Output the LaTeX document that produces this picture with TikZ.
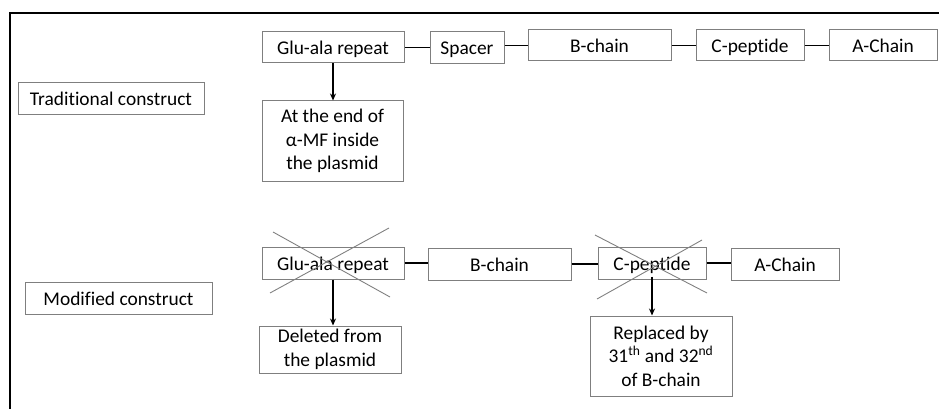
\documentclass[tikz,border=0pt]{standalone}
\usepackage{fontspec}
\setmainfont{Carlito}[Ligatures={NoCommon}]
\usetikzlibrary{arrows.meta}
\definecolor{boxgray}{HTML}{7F7F7F}
\definecolor{crossgray}{HTML}{808080}
\tikzset{
  box/.style={draw=boxgray, line width=1pt, minimum height=31pt, inner sep=0pt, align=center,
              font=\fontsize{19.4}{23.5}\selectfont},
  one/.style={text height=16pt, text depth=2pt},
  link/.style={draw=black, line width=1.6pt},
  arr/.style={draw=black, line width=1.6pt, -{Stealth[length=7pt,width=6pt]}},
  cross/.style={draw=crossgray, line width=0.9pt},
  frameline/.style={draw=black, line width=2.4pt}
}
\begin{document}
\begin{tikzpicture}[x=1pt,y=-1pt]
\useasboundingbox (0,0) rectangle (939,409);
% frame
\coordinate (ftr) at (939,13);
\coordinate (ftl) at (10,13);
\coordinate (fbl) at (10,409);
\draw[frameline] (ftr) -- (ftl) -- (fbl);

% top row
\node[box, one, minimum width=142pt] (g1) at (333,47.5) {Glu-ala repeat};
\node[box, one, minimum width=74pt, minimum height=32pt] (sp) at (467,48) {Spacer};
\node[box, one, minimum width=143pt] (b1) at (599.5,45.5) {B-chain};
\node[box, one, minimum width=108pt] (c1) at (750,45.5) {C-peptide};
\node[box, one, minimum width=108pt] (a1) at (883,45.5) {A-Chain};
\node[box, one, minimum width=186pt, minimum height=32pt] (trad) at (111,98.5) {Traditional construct};
\node[box, minimum width=141pt, minimum height=80pt] (endb) at (332.5,141) {At the end of\\α-MF inside\\the plasmid};

\draw[link] (g1.east) -- (g1.east -| sp.west);
\draw[link] (b1.west -| sp.east) -- (b1.west);
\draw[link] (b1.east) -- (c1.west);
\draw[link] (c1.east) -- (a1.west);
\draw[arr] (g1.south) -- (g1.south |- endb.north);

% bottom row
\node[box, one, minimum width=187pt, minimum height=32pt] (mod) at (118.5,298) {Modified construct};
\node[box, one, minimum width=142pt, minimum height=32pt] (g2) at (333,263) {Glu-ala repeat};
\node[box, one, minimum width=143pt, minimum height=32pt] (b2) at (499.5,264) {B-chain};
\node[box, one, minimum width=108pt, minimum height=32pt] (c2) at (652,263) {C-peptide};
\node[box, one, minimum width=108pt, minimum height=32pt] (a2) at (785,264) {A-Chain};
\node[box, minimum width=142pt, minimum height=47pt] (del) at (330,349.5) {Deleted from\\the plasmid};
\node[box, minimum width=142pt, minimum height=80pt] (rep) at (661,356) {Replaced by\\31\textsuperscript{th} and 32\textsuperscript{nd}\\of B-chain};

\draw[link] (g2.east) -- (g2.east -| b2.west);
\draw[link] (b2.east) -- (b2.east -| c2.west);
\draw[link] (c2.east) -- (c2.east -| a2.west);
\draw[arr] (g2.south) -- (g2.south |- del.north);
\draw[arr] ([yshift=3pt]c2.south) -- (c2.south |- rep.north);

% crosses
\coordinate (x1a) at (273,232);
\coordinate (x1b) at (390,297);
\coordinate (x1c) at (389,228);
\coordinate (x1d) at (270,293);
\draw[cross] (x1a) -- (x1b);
\draw[cross] (x1c) -- (x1d);
\coordinate (x2a) at (595,235);
\coordinate (x2b) at (707,293);
\coordinate (x2c) at (702,240);
\coordinate (x2d) at (597,299);
\draw[cross] (x2a) -- (x2b);
\draw[cross] (x2c) -- (x2d);
\end{tikzpicture}
\end{document}
